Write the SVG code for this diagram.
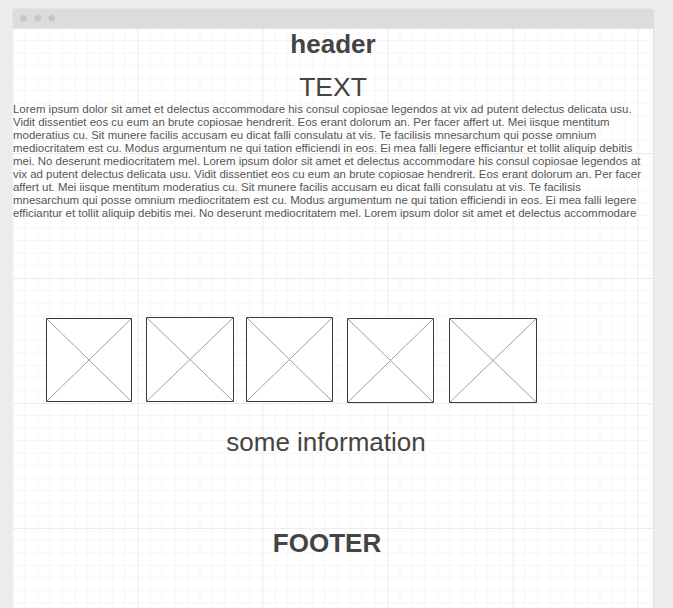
<svg xmlns="http://www.w3.org/2000/svg" width="673" height="608" viewBox="0 0 673 608">
<style>
.t{font-family:"Liberation Sans",Arial,Helvetica,sans-serif;fill:#444444}
.lorem{font-family:"Liberation Sans",Arial,Helvetica,sans-serif;font-size:11.45px;fill:#555555}
.img rect{fill:#ffffff;stroke:#3a3a3a;stroke-width:1}
.img line{stroke:#a0a0a0;stroke-width:1}
.minor{stroke:#f5f5f5;stroke-width:1}
.major{stroke:#ececec;stroke-width:1}
</style>
<defs>
<pattern id="grid" patternUnits="userSpaceOnUse" x="12.5" y="28" width="125" height="125">
<g class="minor">
<path d="M12.5 0V125M25 0V125M37.5 0V125M50 0V125M62.5 0V125M75 0V125M87.5 0V125M100 0V125M112.5 0V125"/>
<path d="M0 12.5H125M0 25H125M0 37.5H125M0 50H125M0 62.5H125M0 75H125M0 87.5H125M0 100H125M0 112.5H125"/>
</g>
<path class="major" d="M0.5 0V125M0 0.5H125"/>
</pattern>
</defs>
<rect width="673" height="608" fill="#ececec"/>
<g id="window">
<rect x="12.5" y="28" width="640.5" height="580" fill="#ffffff"/>
<rect x="12.5" y="28" width="640.5" height="580" fill="url(#grid)"/>
<line x1="653.5" y1="10" x2="653.5" y2="608" stroke="#dedede" stroke-width="1"/>
<path d="M12.5 28.5V11.5a3 3 0 0 1 3-3H650a3 3 0 0 1 3 3V28.5Z" fill="#dcdcdc"/>
<circle cx="23.5" cy="18.3" r="3.3" fill="#c6c6c6"/>
<circle cx="37.7" cy="18.3" r="3.3" fill="#c6c6c6"/>
<circle cx="51.7" cy="18.3" r="3.3" fill="#c6c6c6"/>
</g>
<g id="header"><text class="t" x="333" y="52.5" font-size="26" font-weight="bold" text-anchor="middle">header</text></g>
<g id="title"><text class="t" x="333" y="96" font-size="26.5" text-anchor="middle">TEXT</text></g>
<g id="lorem">
<text class="lorem" x="13" y="113">Lorem ipsum dolor sit amet et delectus accommodare his consul copiosae legendos at vix ad putent delectus delicata usu.</text>
<text class="lorem" x="13" y="126">Vidit dissentiet eos cu eum an brute copiosae hendrerit. Eos erant dolorum an. Per facer affert ut. Mei iisque mentitum</text>
<text class="lorem" x="13" y="139">moderatius cu. Sit munere facilis accusam eu dicat falli consulatu at vis. Te facilisis mnesarchum qui posse omnium</text>
<text class="lorem" x="13" y="152">mediocritatem est cu. Modus argumentum ne qui tation efficiendi in eos. Ei mea falli legere efficiantur et tollit aliquip debitis</text>
<text class="lorem" x="13" y="165">mei. No deserunt mediocritatem mel. Lorem ipsum dolor sit amet et delectus accommodare his consul copiosae legendos at</text>
<text class="lorem" x="13" y="178">vix ad putent delectus delicata usu. Vidit dissentiet eos cu eum an brute copiosae hendrerit. Eos erant dolorum an. Per facer</text>
<text class="lorem" x="13" y="191">affert ut. Mei iisque mentitum moderatius cu. Sit munere facilis accusam eu dicat falli consulatu at vis. Te facilisis</text>
<text class="lorem" x="13" y="204">mnesarchum qui posse omnium mediocritatem est cu. Modus argumentum ne qui tation efficiendi in eos. Ei mea falli legere</text>
<text class="lorem" x="13" y="217">efficiantur et tollit aliquip debitis mei. No deserunt mediocritatem mel. Lorem ipsum dolor sit amet et delectus accommodare</text>
</g>
<g id="image1" class="img"><rect x="46.5" y="318.5" width="85" height="83"/><line x1="46.5" y1="318.5" x2="131.5" y2="401.5"/><line x1="131.5" y1="318.5" x2="46.5" y2="401.5"/></g>
<g id="image2" class="img"><rect x="146.5" y="317.5" width="87" height="84"/><line x1="146.5" y1="317.5" x2="233.5" y2="401.5"/><line x1="233.5" y1="317.5" x2="146.5" y2="401.5"/></g>
<g id="image3" class="img"><rect x="246.5" y="317.5" width="86" height="84"/><line x1="246.5" y1="317.5" x2="332.5" y2="401.5"/><line x1="332.5" y1="317.5" x2="246.5" y2="401.5"/></g>
<g id="image4" class="img"><rect x="347.5" y="318.5" width="86" height="84"/><line x1="347.5" y1="318.5" x2="433.5" y2="402.5"/><line x1="433.5" y1="318.5" x2="347.5" y2="402.5"/></g>
<g id="image5" class="img"><rect x="449.5" y="318.5" width="87" height="84"/><line x1="449.5" y1="318.5" x2="536.5" y2="402.5"/><line x1="536.5" y1="318.5" x2="449.5" y2="402.5"/></g>
<g id="info"><text class="t" x="326" y="451" font-size="26" text-anchor="middle">some information</text></g>
<g id="footer"><text class="t" x="327" y="552" font-size="26" font-weight="bold" text-anchor="middle">FOOTER</text></g>
</svg>
